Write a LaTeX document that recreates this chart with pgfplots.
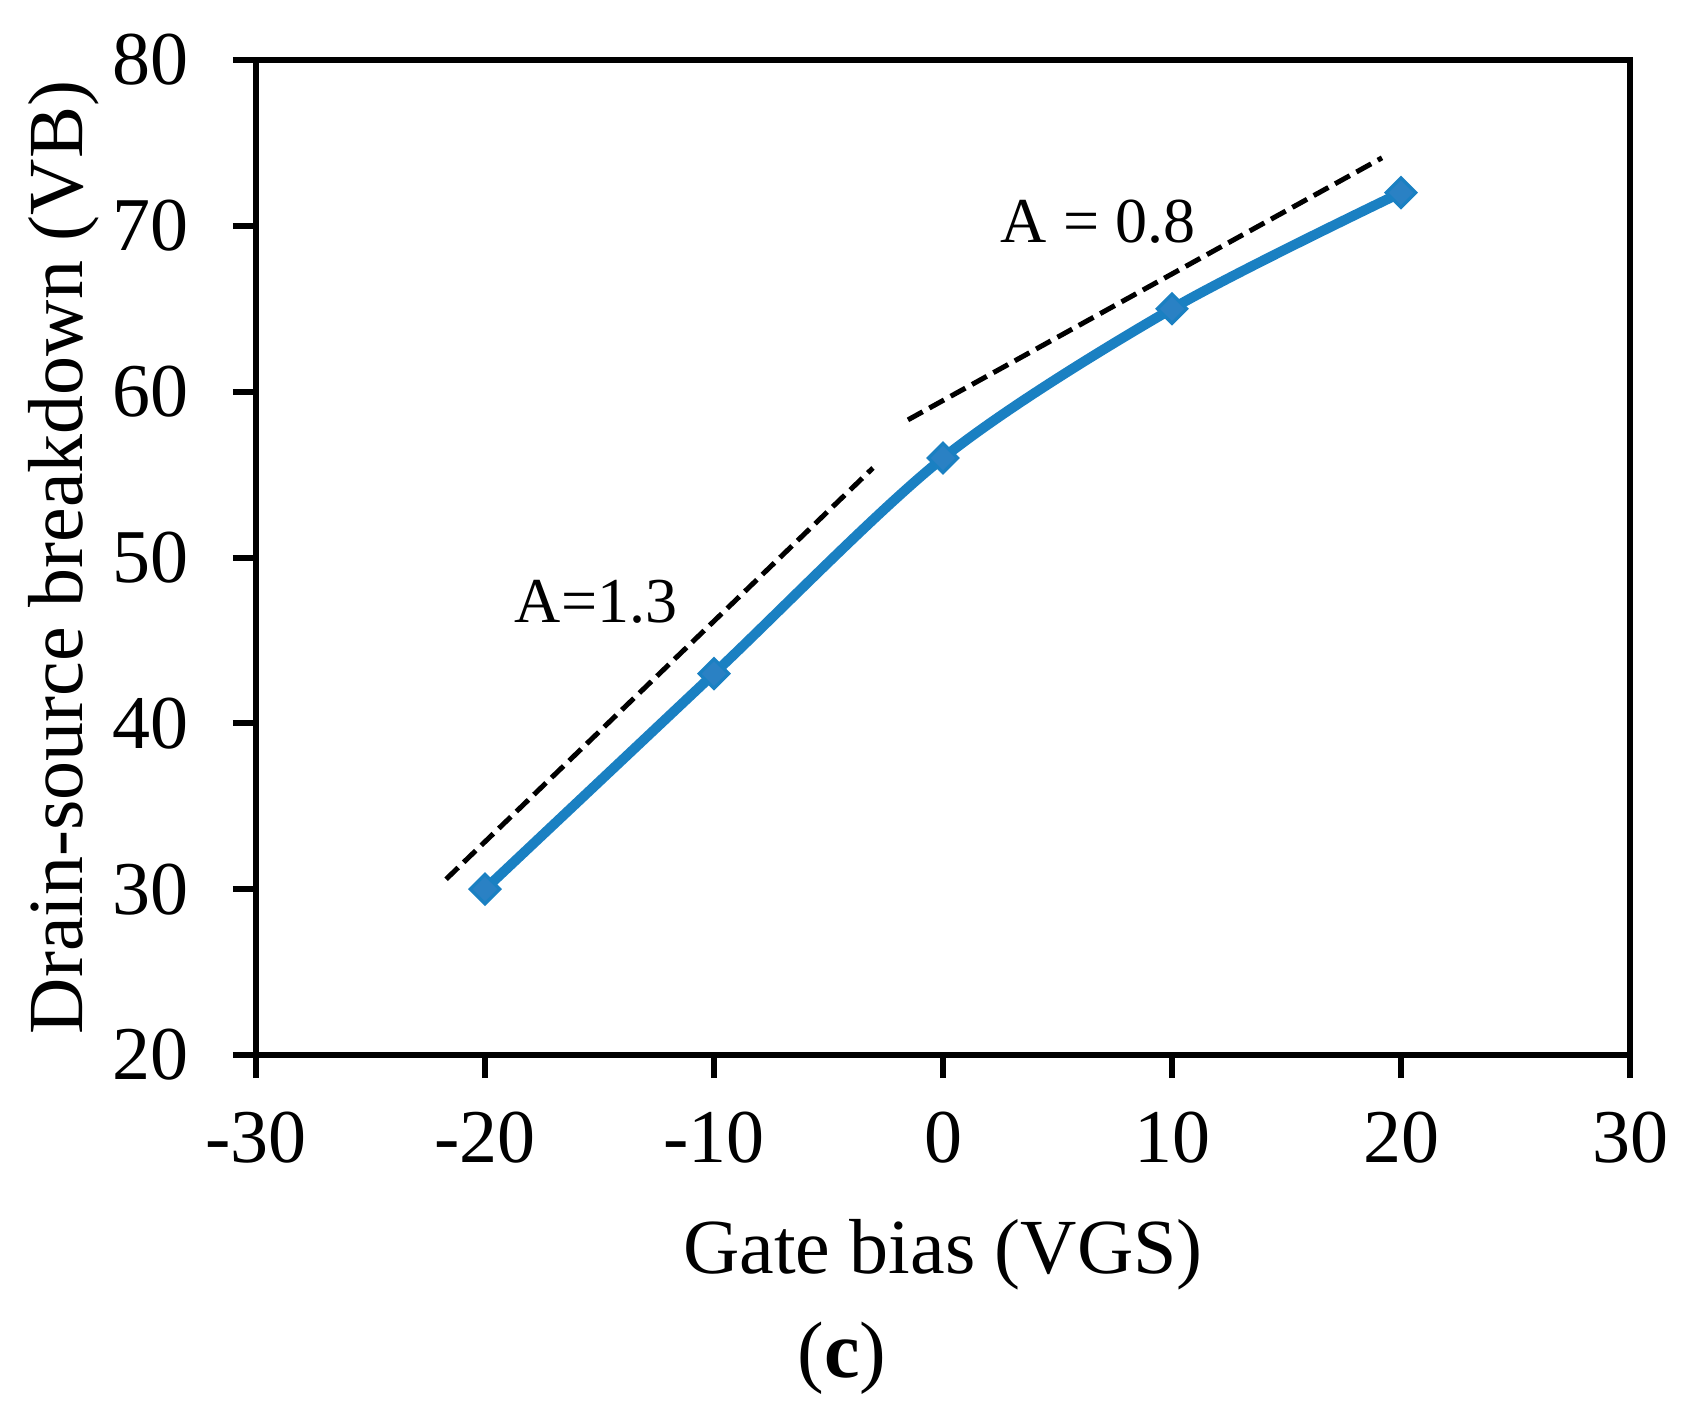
\documentclass[border=0pt]{standalone}
\usepackage{pgfplots}
\pgfplotsset{compat=1.18}
\usepackage{fontspec}
\setmainfont{Liberation Serif}
\definecolor{lineblue}{RGB}{26,128,194}
\definecolor{markblue}{RGB}{42,129,196}
\begin{document}
\begin{tikzpicture}
\begin{axis}[
  scale only axis,
  width=343.5pt, height=248.75pt,
  xmin=-30, xmax=30, ymin=20, ymax=80,
  xtick={-30,-20,-10,0,10,20,30},
  xticklabels={-30,-20,-10,0,10,20,30},
  ytick={20,30,40,50,60,70,80},
  yticklabels={20,30,40,50,60,70,80},
  tick align=outside,
  xtick pos=bottom, ytick pos=left,
  major tick length=5.75pt,
  axis line style={line width=1.5pt},
  every tick/.style={line width=1.5pt, black},
  ticklabel style={font=\fontsize{19}{22}\selectfont},
  xticklabel style={yshift=-5pt},
  yticklabel style={xshift=-7.5pt},
  xlabel={Gate bias (VGS)},
  ylabel={Drain-source breakdown (VB)},
  label style={font=\fontsize{19.5}{23}\selectfont},
  xlabel style={at={(axis description cs:0.5,0)}, yshift=-54.5pt, anchor=base},
  ylabel style={at={(axis description cs:0,0.5)}, yshift=43.25pt, anchor=base},
  clip=false,
]
\coordinate (bl) at (rel axis cs:0,0);
\coordinate (tr) at (rel axis cs:1,1);
\addplot[black, line width=1.25pt, dash pattern=on 4.2pt off 1.9pt] coordinates {(-21.7,30.6) (-3.06,55.4)};
\addplot[black, line width=1.25pt, dash pattern=on 4.2pt off 1.9pt] coordinates {(-1.53,58.3) (19.17,74.1)};
\addplot[lineblue, line width=2.5pt, smooth, mark=square*, mark size=2.6pt,
  mark options={rotate=45, fill=markblue, draw=lineblue, line width=0.8pt}]
  coordinates {(-20,30) (-10,43) (0,56) (10,65) (20,72)};
\node[anchor=base, font=\fontsize{16}{19}\selectfont] at (axis cs:-15.15,46.1) {A=1.3};
\node[anchor=base, font=\fontsize{16}{19}\selectfont] at (axis cs:6.77,69.0) {A = 0.8};
\end{axis}
\node[anchor=base, font=\fontsize{20}{24}\selectfont] at ([shift={(146.5pt,-80.5pt)}]bl) {(\textbf{c})};
\pgfresetboundingbox
\path[use as bounding box] ([shift={(-64pt,-89.25pt)}]bl) rectangle ([shift={(13.5pt,15pt)}]tr);
\end{tikzpicture}
\end{document}
